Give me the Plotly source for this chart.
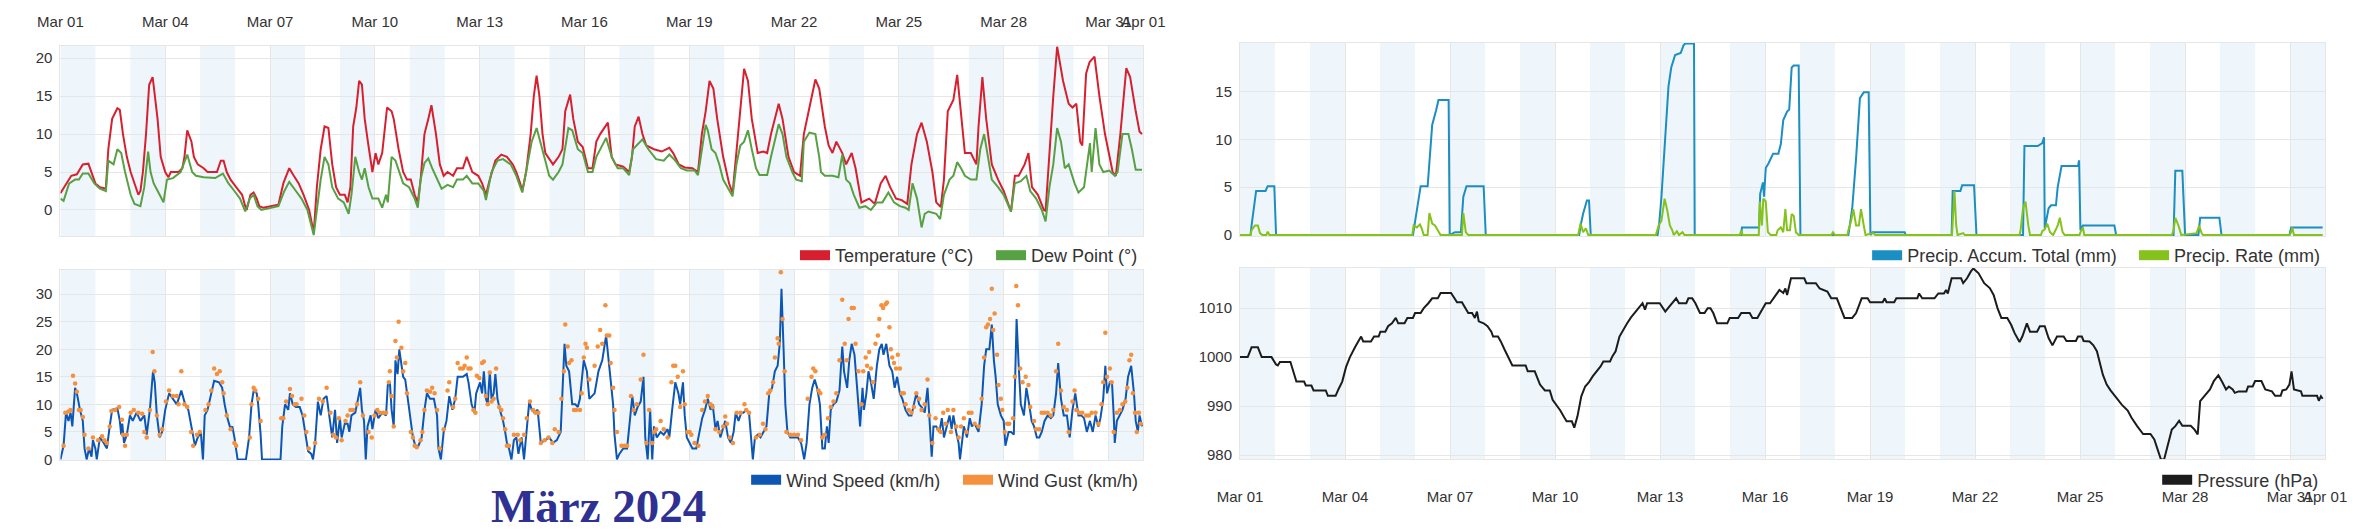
import numpy as np
import pandas as pd
import plotly.graph_objects as go

START = pd.Timestamp("2024-03-01")
END = pd.Timestamp("2024-04-01")

# every series: x in days since Mar 01 00:00
tick_days = [0, 3, 6, 9, 12, 15, 18, 21, 24, 27, 30, 31]

# Temperature (°C)
temp_days = [0.00, 0.31, 0.47, 0.64, 0.80, 1.00, 1.13, 1.30, 1.37, 1.48, 1.63, 1.70, 1.79, 1.90, 2.01, 2.18, 2.23, 2.29,
             2.36, 2.45, 2.54, 2.64, 2.78, 2.87, 3.00, 3.09, 3.16, 3.38, 3.49, 3.55, 3.63, 3.75, 3.82, 3.93, 4.10, 4.21, 4.48, 4.59, 4.67, 4.76, 4.87,
             5.03, 5.20, 5.29, 5.33, 5.44, 5.53, 5.62, 5.69, 5.80, 6.08, 6.24, 6.38, 6.55, 6.68, 6.82, 6.96, 7.12,
             7.25, 7.34, 7.45, 7.56, 7.67, 7.78, 7.89, 8.00, 8.14, 8.22, 8.30, 8.38, 8.47, 8.55, 8.63, 8.71, 8.80, 8.88, 8.93, 9.02, 9.10,
             9.21, 9.35, 9.48, 9.54, 9.68, 9.81, 9.92, 10.03, 10.14, 10.23, 10.31, 10.42, 10.53, 10.62, 10.75, 10.86, 10.97, 11.08,
             11.24, 11.35, 11.52, 11.63, 11.79, 11.96, 12.07, 12.18, 12.29, 12.45, 12.62, 12.78, 12.95, 13.05, 13.16, 13.22,
             13.33, 13.46, 13.55, 13.63, 13.71, 13.80, 13.88, 14.04, 14.10, 14.26, 14.37, 14.45, 14.59, 14.68, 14.81, 14.95, 15.10, 15.23,
             15.34, 15.45, 15.67, 15.78, 15.89, 16.11, 16.28, 16.36, 16.44, 16.55, 16.66, 16.77, 16.99, 17.21, 17.43, 17.54, 17.70, 17.87,
             18.09, 18.25, 18.36, 18.47, 18.58, 18.69, 18.80, 18.97, 19.14, 19.24, 19.35, 19.46, 19.57, 19.68, 19.79, 19.96, 20.12,
             20.23, 20.34, 20.56, 20.67, 20.84, 21.00, 21.17, 21.28, 21.44, 21.61, 21.72, 21.88, 21.99, 22.10,
             22.21, 22.38, 22.49, 22.65, 22.76, 22.87, 22.93, 23.15, 23.31, 23.48, 23.62, 23.75, 23.92, 24.08, 24.24,
             24.36, 24.52, 24.65, 24.80, 24.96, 25.07, 25.20, 25.29, 25.40, 25.56, 25.67, 25.78, 25.89, 26.06, 26.22,
             26.28, 26.39, 26.50, 26.66, 26.84, 27.00, 27.21, 27.32, 27.43, 27.60, 27.71, 27.81, 27.98, 28.15, 28.20,
             28.31, 28.42, 28.53, 28.70, 28.86, 28.97, 29.08, 29.19, 29.25, 29.36, 29.46, 29.60, 29.74, 29.90, 30.12, 30.21, 30.34, 30.51, 30.62, 30.73, 30.78, 30.89, 30.96]
temp_vals = [2.2, 4.5, 4.7, 6.0, 6.1, 3.5, 3.0, 2.8, 8.0, 12.0, 13.4, 13.2, 10.0, 7.0, 5.0, 2.5, 2.0, 2.5,
             5.0, 10.0, 16.5, 17.5, 12.0, 7.0, 5.0, 4.3, 5.0, 5.0, 5.5, 7.0, 10.5, 9.0, 7.0, 6.0, 5.5, 5.0, 5.0, 6.5, 6.5, 5.0, 4.0,
             3.0, 2.0, 0.5, 0.0, 2.0, 2.3, 1.5, 0.5, 0.3, 0.5, 0.7, 3.5, 5.5, 4.5, 3.5, 2.0, 0.0,
             -3.0, 3.0, 8.0, 11.0, 10.8, 6.0, 3.0, 2.0, 2.0, 1.0, 3.0, 11.0, 13.5, 17.0, 16.5, 12.0, 9.0, 6.5, 5.0, 7.5, 6.0,
             7.5, 13.5, 13.0, 12.0, 8.0, 5.0, 4.0, 4.0, 2.0, 1.0, 4.0, 10.0, 12.0, 13.8, 10.0, 6.0, 4.5, 5.0,
             4.5, 5.5, 5.5, 7.0, 5.0, 4.5, 3.5, 2.0, 4.0, 6.5, 7.3, 7.0, 6.0, 5.0, 3.5, 2.5,
             5.0, 10.0, 15.0, 17.7, 15.0, 10.0, 7.5, 6.5, 6.0, 7.0, 8.0, 13.0, 15.2, 12.0, 9.0, 8.3, 5.5, 5.5,
             9.0, 10.0, 11.5, 7.0, 6.0, 5.7, 5.0, 7.0, 11.0, 12.3, 10.0, 8.5, 8.0, 7.7, 8.2, 7.5, 6.0, 5.6,
             5.5, 5.0, 10.0, 13.0, 17.0, 16.0, 12.0, 7.0, 3.5, 2.2, 8.0, 13.0, 18.6, 17.0, 12.0, 7.5, 7.7,
             7.5, 10.0, 14.0, 12.0, 7.0, 5.0, 4.5, 10.0, 13.5, 17.2, 16.0, 11.0, 8.5, 7.5,
             9.0, 7.5, 6.0, 7.5, 5.5, 2.5, 1.0, 1.5, 0.8, 3.5, 4.5, 3.0, 1.5, 1.3, 0.8,
             6.0, 10.0, 11.5, 9.0, 5.0, 1.0, 0.4, 4.0, 13.0, 14.5, 17.8, 13.0, 7.5, 7.5, 6.0,
             11.0, 17.5, 12.0, 6.0, 4.0, 2.5, -0.2, 4.5, 4.5, 6.0, 7.5, 3.0, 2.0, 0.0, -0.1,
             8.0, 15.0, 21.5, 17.0, 14.0, 13.5, 14.0, 9.0, 8.5, 18.0, 19.5, 20.2, 15.0, 10.0, 5.0, 4.5, 10.0, 18.7, 17.5, 14.0, 13.0, 10.3, 10.0]

# Dew Point (°)
dew_days = [0.00, 0.09, 0.25, 0.42, 0.53, 0.64, 0.80, 0.97, 1.13, 1.30, 1.37, 1.52, 1.63, 1.74, 1.85, 2.01, 2.12, 2.29,
            2.40, 2.51, 2.58, 2.67, 2.84, 2.95, 3.05, 3.22, 3.44, 3.63, 3.77, 3.88, 4.10, 4.43, 4.65, 4.81, 4.98,
            5.14, 5.29, 5.42, 5.53, 5.64, 5.75, 6.08, 6.24, 6.41, 6.55, 6.74, 6.90, 7.07, 7.18, 7.25,
            7.34, 7.45, 7.56, 7.67, 7.78, 7.95, 8.11, 8.25, 8.33, 8.44, 8.55, 8.63, 8.71, 8.82, 8.93, 9.10, 9.21, 9.32, 9.37,
            9.48, 9.59, 9.70, 9.81, 9.98, 10.14, 10.23, 10.31, 10.42, 10.53, 10.64, 10.80, 10.91, 11.08, 11.24, 11.35, 11.52, 11.63,
            11.79, 11.96, 12.12, 12.18, 12.34, 12.51, 12.67, 12.89, 13.05, 13.22, 13.33, 13.49, 13.63, 13.77, 13.88, 13.99, 14.10,
            14.26, 14.37, 14.54, 14.65, 14.81, 14.95, 15.10, 15.23, 15.34, 15.45, 15.62, 15.78, 15.95, 16.11, 16.28, 16.39, 16.50, 16.66,
            16.83, 17.05, 17.27, 17.43, 17.60, 17.76, 17.93, 18.15, 18.25, 18.36, 18.47, 18.53, 18.64, 18.75, 18.86, 18.97, 19.14, 19.24,
            19.35, 19.46, 19.57, 19.68, 19.79, 19.91, 20.01, 20.23, 20.34, 20.45, 20.56, 20.67, 20.78, 20.95, 21.06, 21.22,
            21.28, 21.44, 21.61, 21.72, 21.77, 21.88, 22.10, 22.27, 22.38, 22.49, 22.60, 22.71, 22.87, 23.04, 23.20, 23.37, 23.53, 23.70,
            23.86, 24.03, 24.19, 24.28, 24.39, 24.52, 24.65, 24.74, 24.85, 25.07, 25.18, 25.29, 25.45, 25.56, 25.67, 25.78, 25.89,
            26.06, 26.22, 26.33, 26.44, 26.55, 26.66, 26.84, 27.00, 27.21, 27.32, 27.49, 27.65, 27.76, 27.93, 28.09, 28.20,
            28.31, 28.42, 28.53, 28.64, 28.75, 28.86, 29.03, 29.14, 29.30, 29.47, 29.52, 29.63, 29.74, 29.85, 30.02, 30.18, 30.26, 30.40, 30.57, 30.67, 30.78, 30.96]
dew_vals = [1.5, 1.2, 3.5, 4.0, 4.0, 4.8, 4.8, 3.5, 2.8, 2.5, 6.5, 6.0, 8.0, 7.5, 5.0, 2.0, 0.8, 0.5,
            3.0, 7.7, 5.0, 3.5, 2.0, 1.0, 4.0, 4.2, 5.0, 7.3, 5.0, 4.5, 4.3, 4.2, 4.8, 3.5, 2.5,
            1.5, -0.2, 1.5, 2.0, 0.5, 0.0, 0.3, 0.5, 2.5, 3.7, 2.5, 1.5, 0.0, -2.0, -3.3,
            0.0, 4.0, 7.0, 6.0, 3.0, 1.5, 1.0, -0.5, 2.0, 7.0, 5.0, 4.0, 5.5, 3.0, 1.5, 1.5, 0.3, 2.0, 1.0,
            7.0, 6.5, 5.0, 3.5, 3.0, 1.5, 0.3, 4.0, 6.2, 6.8, 5.5, 4.0, 2.8, 3.3, 3.0, 4.0, 4.0, 4.5,
            3.5, 3.5, 2.5, 1.3, 5.0, 6.5, 6.7, 6.0, 4.5, 2.3, 5.0, 9.0, 10.8, 8.5, 6.5, 4.5, 4.0,
            5.0, 6.0, 10.8, 10.5, 8.0, 7.5, 5.0, 5.0, 7.0, 8.0, 9.5, 7.0, 5.5, 5.5, 4.6, 8.0, 8.5, 9.3,
            8.0, 6.7, 6.5, 7.3, 6.5, 5.5, 5.2, 5.2, 4.6, 8.0, 11.2, 10.5, 8.0, 7.5, 6.0, 4.0, 2.5, 1.8,
            6.0, 8.5, 9.0, 10.5, 8.0, 5.5, 4.6, 4.6, 7.0, 9.0, 11.3, 10.0, 7.0, 5.0, 4.0, 3.8,
            9.0, 10.2, 10.0, 7.0, 5.0, 4.5, 4.5, 4.3, 7.3, 4.0, 3.5, 2.0, 0.3, 0.5, 0.0, 1.0, 1.0, 2.3,
            1.0, 0.5, 0.3, 0.0, 3.5, 1.5, -2.3, -0.5, -0.2, -0.5, -1.2, 2.0, 4.0, 4.5, 6.3, 5.5, 4.5,
            4.0, 4.0, 8.0, 10.0, 7.0, 4.0, 3.0, 2.0, -0.2, 3.5, 3.8, 4.5, 2.5, 1.5, 0.0, -1.5,
            3.0, 6.0, 10.8, 9.0, 5.5, 6.0, 3.5, 2.3, 3.0, 8.8, 5.0, 10.8, 6.0, 5.0, 5.2, 4.5, 5.0, 10.0, 10.0, 8.0, 5.3, 5.3]

# Wind Speed (km/h)
wind_days = [0.00, 0.09, 0.16, 0.23, 0.29, 0.34, 0.42, 0.47, 0.56, 0.64, 0.69, 0.75, 0.82, 0.89, 0.93, 1.00, 1.04, 1.13, 1.24, 1.33,
             1.41, 1.48, 1.63, 1.70, 1.74, 1.77, 1.82, 1.90, 1.99, 2.07, 2.18, 2.29, 2.40, 2.47, 2.56, 2.65, 2.70, 2.76, 2.84, 2.91,
             3.00, 3.11, 3.22, 3.33, 3.46, 3.57, 3.66, 3.77, 3.85, 3.93, 4.02, 4.08, 4.13, 4.21, 4.32, 4.40, 4.54, 4.63, 4.70, 4.78,
             4.87, 4.92, 4.98, 5.07, 5.31, 5.40, 5.47, 5.53, 5.62, 5.66, 5.73, 5.77, 6.30, 6.35, 6.43, 6.52, 6.57, 6.65, 6.74, 6.85,
             6.93, 7.01, 7.09, 7.18, 7.23, 7.29, 7.37, 7.45, 7.53, 7.62, 7.70, 7.78, 7.86, 7.92, 8.00, 8.05, 8.14, 8.22, 8.27, 8.33,
             8.44, 8.52, 8.58, 8.63, 8.69, 8.74, 8.79, 8.88, 8.93, 9.02, 9.10, 9.21, 9.32, 9.37, 9.43, 9.48, 9.54, 9.59, 9.65, 9.70,
             9.76, 9.81, 9.87, 9.92, 10.01, 10.09, 10.16, 10.25, 10.34, 10.42, 10.49, 10.58, 10.69, 10.78, 10.82, 10.89, 10.97, 11.05, 11.13, 11.22,
             11.30, 11.37, 11.52, 11.63, 11.68, 11.77, 11.85, 11.90, 12.01, 12.07, 12.12, 12.18, 12.23, 12.29, 12.34, 12.40, 12.45, 12.51, 12.58, 12.67,
             12.73, 12.78, 12.84, 12.91, 12.98, 13.05, 13.11, 13.20, 13.27, 13.33, 13.42, 13.49, 13.57, 13.66, 13.75, 13.88, 13.99, 14.10, 14.21, 14.32,
             14.43, 14.48, 14.56, 14.65, 14.74, 14.81, 14.87, 14.98, 15.07, 15.14, 15.29, 15.40, 15.51, 15.62, 15.73, 15.82, 15.86, 15.93, 16.00, 16.11,
             16.22, 16.28, 16.37, 16.44, 16.52, 16.61, 16.69, 16.74, 16.81, 16.88, 16.94, 16.99, 17.07, 17.18, 17.27, 17.38, 17.43, 17.51, 17.60, 17.69,
             17.74, 17.82, 17.87, 17.93, 18.01, 18.09, 18.20, 18.29, 18.37, 18.45, 18.53, 18.61, 18.67, 18.75, 18.81, 18.89, 18.97, 19.03, 19.11, 19.19,
             19.27, 19.33, 19.41, 19.49, 19.55, 19.63, 19.71, 19.77, 19.82, 19.88, 19.96, 20.04, 20.13, 20.21, 20.29, 20.37, 20.45, 20.53, 20.59, 20.64,
             20.70, 20.75, 20.81, 20.89, 21.00, 21.11, 21.20, 21.29, 21.36, 21.44, 21.52, 21.59, 21.66, 21.74, 21.81, 21.88, 21.94, 21.99, 22.05, 22.13,
             22.21, 22.30, 22.38, 22.43, 22.52, 22.58, 22.65, 22.73, 22.78, 22.84, 22.89, 22.96, 23.00, 23.07, 23.13, 23.20, 23.28, 23.37, 23.44, 23.51,
             23.56, 23.64, 23.73, 23.81, 23.88, 23.95, 24.03, 24.10, 24.19, 24.28, 24.36, 24.43, 24.50, 24.58, 24.65, 24.74, 24.82, 24.87, 24.94, 24.99,
             25.07, 25.16, 25.23, 25.29, 25.38, 25.45, 25.51, 25.56, 25.64, 25.71, 25.75, 25.81, 25.86, 25.95, 26.03, 26.09, 26.17, 26.28, 26.37, 26.44,
             26.50, 26.59, 26.66, 26.72, 26.77, 26.83, 26.92, 27.00, 27.05, 27.14, 27.21, 27.29, 27.37, 27.43, 27.49, 27.58, 27.65, 27.73, 27.80, 27.87,
             27.95, 28.02, 28.09, 28.17, 28.26, 28.35, 28.42, 28.50, 28.56, 28.64, 28.72, 28.81, 28.89, 28.97, 29.05, 29.14, 29.22, 29.30, 29.38, 29.47,
             29.55, 29.63, 29.71, 29.77, 29.85, 29.91, 29.96, 30.04, 30.10, 30.15, 30.18, 30.24, 30.33, 30.40, 30.49, 30.56, 30.65, 30.73, 30.78, 30.84, 30.89, 30.96]
wind_vals = [0, 2.5, 8.5, 7, 8.5, 6, 13, 12, 9, 7, 2, 0, 2, 0.5, 3.5, 2, 0, 4, 3, 2,
             6, 9, 9.3, 7, 4.5, 6.5, 3, 4.5, 8, 7, 8.5, 7, 8, 4.5, 9, 16, 14, 8, 4, 5,
             9, 12, 11, 10, 12.5, 10, 9, 5, 2.5, 4, 4.8, 0, 8, 9, 12, 14.3, 14, 13, 10, 7.5,
             5.5, 6, 4, 0, 0, 4, 10, 12.5, 12, 10, 4.5, 0, 0, 6, 10, 9, 12, 10, 9.5, 9.5,
             8, 5, 1.5, 1, 0, 3, 10.5, 8, 11, 11.5, 8, 4, 9, 3, 7.5, 4, 6.5, 6.5, 5, 8,
             8.5, 11, 13, 9, 7, 0, 6, 8, 5.5, 9, 7.5, 8.5, 8, 13.5, 14, 9, 6, 18, 15.5, 20,
             17, 15, 14.5, 12, 8, 4, 2.5, 2.5, 4, 9, 12, 11, 11, 8, 2, 0, 5, 7, 11.5, 9,
             11, 15, 15, 15.5, 14, 10, 8.5, 12, 14, 12, 16, 11, 10, 16, 11, 12, 15.5, 11, 9, 7,
             5, 3, 2, 0, 3.5, 4, 1, 4, 0, 4, 10.5, 9, 8.5, 9, 3, 3.5, 4, 3, 3.5, 5,
             21, 17, 16, 10, 10, 9.5, 11, 18, 16, 11, 12, 16, 18, 22.5, 15, 10, 4.5, 0, 1, 2,
             2, 6, 11.5, 8, 9.5, 10.5, 15, 4, 0, 9, 0, 6, 4, 5, 4.5, 5.5, 4, 9, 14, 12,
             10, 14, 8, 4, 3, 2, 2, 5, 7.5, 9, 11, 9, 10, 5.5, 7, 4, 5.5, 7, 4, 3,
             5, 8.5, 7, 8.5, 8.5, 9, 8.5, 4, 0, 4, 4.5, 4, 5, 6, 12, 13, 16, 17, 21, 31,
             20, 10, 5, 4, 4, 4, 3, 0, 3, 10, 13, 14.5, 13, 10, 2, 2, 6, 3, 9, 10,
             10.5, 12.5, 20.5, 16, 13, 18, 21, 19, 15, 10, 6, 13, 9, 12, 16, 14, 11, 17, 20, 21,
             19, 21, 17, 16, 13, 15, 12, 11, 9, 8, 8, 10, 12, 10, 9.5, 8.5, 13, 8, 0.5, 6,
             6, 5, 7.5, 4, 6, 8, 5.5, 8, 5, 3, 0, 4, 6, 4, 7.5, 6, 6.5, 5, 10, 17,
             20, 20, 24.5, 18, 15, 10, 8, 7, 2.5, 5, 5, 4.5, 25.5, 17, 10, 8, 13, 10, 7, 6,
             4, 4, 5, 7, 8, 7.5, 8, 12, 17.5, 11, 8, 8, 4, 9, 12, 8, 8, 7.5, 5, 7,
             5, 8, 6, 7.5, 11, 17, 12, 14, 14, 8, 3, 7, 8, 9, 11, 15, 17, 12, 7, 5, 8, 6]

# Wind Gust (km/h)
gust_days = [0.09, 0.14, 0.23, 0.29, 0.36, 0.42, 0.47, 0.53, 0.58, 0.64, 0.69, 0.80, 0.93, 1.08, 1.19, 1.26, 1.33, 1.41, 1.46, 1.57,
             1.68, 1.76, 1.79, 1.85, 1.90, 2.01, 2.10, 2.23, 2.34, 2.40, 2.47, 2.56, 2.64, 2.69, 2.76, 2.84, 2.91, 3.02, 3.11, 3.22,
             3.33, 3.38, 3.46, 3.55, 3.63, 3.74, 3.80, 3.91, 3.99, 4.15, 4.24, 4.32, 4.40, 4.48, 4.56, 4.63, 4.67, 4.76, 4.87, 4.98,
             5.03, 5.42, 5.47, 5.53, 5.58, 5.66, 5.73, 6.32, 6.38, 6.46, 6.57, 6.63, 6.71, 6.76, 6.90, 6.98, 7.04, 7.11, 7.29, 7.40,
             7.51, 7.62, 7.73, 7.81, 7.89, 7.97, 8.05, 8.16, 8.22, 8.30, 8.38, 8.49, 8.58, 8.66, 8.82, 8.91, 8.99, 9.07, 9.15, 9.24,
             9.32, 9.40, 9.43, 9.48, 9.54, 9.59, 9.63, 9.68, 9.76, 9.81, 9.87, 9.92, 10.03, 10.09, 10.14, 10.20, 10.31, 10.36, 10.42, 10.49,
             10.58, 10.64, 10.71, 10.78, 10.86, 10.97, 11.08, 11.13, 11.24, 11.30, 11.37, 11.44, 11.52, 11.57, 11.63, 11.68, 11.74, 11.82, 11.88, 11.92,
             11.99, 12.07, 12.12, 12.18, 12.23, 12.29, 12.34, 12.40, 12.47, 12.56, 12.62, 12.67, 12.73, 12.78, 12.84, 12.98, 13.09, 13.16, 13.27, 13.35,
             13.44, 13.53, 13.60, 13.68, 13.75, 13.86, 13.97, 14.08, 14.15, 14.26, 14.34, 14.41, 14.45, 14.52, 14.56, 14.63, 14.70, 14.76, 14.87, 14.92,
             14.98, 15.03, 15.07, 15.14, 15.29, 15.38, 15.45, 15.51, 15.60, 15.64, 15.71, 15.75, 15.82, 15.86, 15.93, 16.06, 16.15, 16.22, 16.33, 16.41,
             16.50, 16.61, 16.69, 16.77, 16.85, 16.94, 16.99, 17.05, 17.18, 17.27, 17.38, 17.49, 17.54, 17.60, 17.67, 17.74, 17.82, 17.87, 17.95, 18.01,
             18.06, 18.15, 18.26, 18.37, 18.45, 18.53, 18.61, 18.67, 18.75, 18.86, 18.97, 19.03, 19.08, 19.16, 19.25, 19.36, 19.47, 19.58, 19.63, 19.71,
             19.91, 20.02, 20.11, 20.18, 20.26, 20.32, 20.40, 20.45, 20.53, 20.56, 20.62, 20.67, 20.73, 20.78, 20.89, 21.00, 21.11, 21.20, 21.39, 21.50,
             21.55, 21.61, 21.70, 21.75, 21.81, 21.88, 21.97, 22.05, 22.13, 22.21, 22.30, 22.38, 22.45, 22.51, 22.56, 22.65, 22.71, 22.76, 22.84, 22.93,
             22.98, 23.05, 23.09, 23.15, 23.20, 23.26, 23.33, 23.40, 23.44, 23.50, 23.55, 23.62, 23.66, 23.73, 23.77, 23.81, 23.86, 23.92, 23.97, 24.03,
             24.08, 24.14, 24.19, 24.28, 24.36, 24.43, 24.50, 24.58, 24.65, 24.74, 24.82, 24.87, 24.96, 25.05, 25.13, 25.20, 25.27, 25.34, 25.40, 25.49,
             25.56, 25.64, 25.71, 25.78, 25.86, 25.93, 26.00, 26.08, 26.17, 26.28, 26.37, 26.44, 26.50, 26.55, 26.61, 26.66, 26.70, 26.74, 26.81, 26.85,
             26.92, 26.96, 27.03, 27.10, 27.16, 27.27, 27.32, 27.36, 27.41, 27.47, 27.54, 27.63, 27.71, 27.76, 27.87, 27.93, 28.02, 28.09, 28.17, 28.26,
             28.35, 28.42, 28.50, 28.56, 28.64, 28.72, 28.81, 28.86, 28.97, 29.03, 29.08, 29.16, 29.25, 29.36, 29.44, 29.52, 29.63, 29.71, 29.80, 29.85,
             29.91, 29.96, 30.04, 30.09, 30.15, 30.24, 30.33, 30.40, 30.48, 30.54, 30.60, 30.65, 30.70, 30.76, 30.81, 30.87, 30.92]
gust_vals = [2.5, 8.5, 8.7, 9.0, 15.2, 13.8, 12.3, 9.0, 9.0, 7.7, 4.5, 2.0, 4.0, 3.5, 4.2, 3.5, 3.0, 6.0, 8.8, 9.0,
             9.5, 7.2, 4.5, 2.5, 4.5, 8.5, 9.0, 8.5, 8.3, 5.0, 4.0, 9.0, 19.5, 16.0, 8.0, 4.5, 5.5, 10.5, 12.5, 11.5,
             11.5, 10.0, 16.0, 10.0, 9.5, 5.0, 2.5, 4.5, 5.0, 9.0, 10.0, 12.5, 16.5, 15.5, 16.0, 14.0, 12.0, 8.0, 5.5, 3.0,
             2.5, 4.0, 10.0, 13.0, 12.5, 11.0, 7.0, 7.5, 7.5, 10.5, 12.8, 11.5, 10.0, 10.0, 11.0, 8.0, 5.0, 2.0, 3.0, 11.0,
             10.5, 13.0, 8.5, 4.5, 4.0, 7.5, 3.5, 7.0, 8.0, 9.0, 9.0, 10.0, 14.0, 8.0, 5.0, 4.0, 8.0, 9.0, 8.5, 8.5,
             8.5, 14.0, 16.0, 11.5, 6.0, 21.5, 18.5, 25.0, 20.3, 16.0, 17.5, 12.0, 5.0, 4.0, 2.5, 2.2, 3.5, 5.0, 9.0, 12.5,
             12.3, 13.0, 12.0, 9.0, 2.0, 5.5, 12.5, 14.0, 9.5, 11.0, 17.5, 16.5, 16.5, 17.0, 18.5, 16.5, 16.5, 9.0, 8.5, 15.2,
             14.8, 17.5, 17.8, 11.5, 10.0, 15.8, 10.5, 11.0, 16.5, 9.5, 9.0, 7.5, 5.5, 2.5, 2.5, 4.5, 4.5, 3.5, 4.5, 7.5,
             10.5, 9.0, 8.5, 8.5, 3.0, 3.5, 4.0, 3.0, 5.5, 5.0, 11.0, 16.0, 24.5, 20.5, 17.5, 18.0, 9.0, 9.0, 9.0, 12.0,
             18.5, 21.0, 20.3, 14.5, 17.0, 20.5, 23.5, 21.0, 28.0, 22.5, 22.5, 17.5, 13.0, 9.0, 5.0, 2.5, 2.5, 2.5, 11.5, 9.0,
             10.0, 14.5, 19.0, 3.0, 9.0, 3.0, 5.0, 5.5, 7.0, 5.5, 4.0, 14.0, 17.0, 17.0, 15.0, 9.5, 16.0, 10.0, 5.0, 5.0,
             4.5, 3.0, 2.5, 9.0, 10.5, 11.5, 10.0, 9.5, 5.5, 5.0, 6.0, 7.8, 6.5, 4.0, 3.0, 8.5, 8.5, 10.0, 9.0, 8.5,
             4.0, 4.5, 6.5, 5.5, 12.0, 12.5, 14.0, 18.5, 22.0, 21.0, 34.0, 25.5, 16.0, 5.0, 4.5, 4.5, 4.5, 3.5, 11.0, 15.0,
             16.5, 16.0, 12.5, 12.0, 4.0, 4.5, 7.5, 9.5, 10.5, 12.0, 18.0, 29.0, 21.0, 18.0, 25.5, 27.5, 27.5, 21.0, 16.0, 10.0,
             16.0, 18.5, 17.0, 19.5, 16.5, 14.0, 21.0, 22.5, 25.5, 28.0, 27.5, 28.2, 28.5, 24.0, 20.0, 18.5, 17.5, 16.5, 19.0, 16.5,
             12.0, 12.0, 10.0, 9.0, 8.5, 9.5, 12.0, 11.0, 9.0, 10.0, 14.5, 8.0, 3.0, 7.5, 5.5, 5.0, 8.5, 6.5, 9.0, 5.0,
             9.0, 6.0, 4.0, 6.0, 7.5, 5.0, 8.5, 8.5, 6.5, 6.0, 11.0, 18.5, 24.0, 24.5, 25.5, 31.0, 23.5, 26.5, 19.0, 13.5,
             11.0, 9.0, 5.0, 6.5, 6.5, 7.5, 15.0, 31.5, 28.0, 16.5, 14.0, 15.0, 13.5, 9.5, 7.0, 5.5, 5.5, 8.5, 8.5, 8.5,
             8.0, 9.0, 16.0, 21.0, 12.5, 9.5, 9.0, 5.0, 10.5, 12.5, 9.0, 8.5, 8.5, 8.0, 8.0, 8.5, 8.5, 6.5, 10.0, 14.0,
             23.0, 15.0, 16.5, 14.0, 5.0, 8.5, 9.0, 10.0, 10.5, 13.0, 18.0, 19.0, 12.0, 8.5, 5.0, 8.5, 6.5]

# Precip. Accum. Total (mm)
rain_total_days = [0.00, 0.30, 0.33, 0.46, 0.73, 0.79, 0.98, 1.03,
                   4.94, 5.02, 5.16, 5.36, 5.49, 5.60, 5.67, 5.96, 5.99,
                   6.14, 6.31, 6.38, 6.47, 6.96, 7.02,
                   9.69, 9.73, 9.80, 9.91, 9.97, 10.02,
                   11.93, 11.97, 12.04, 12.15, 12.24, 12.32, 12.43, 12.59, 12.67, 12.72, 12.97, 12.99,
                   14.32, 14.34, 14.83, 14.86, 14.94, 14.97, 15.02, 15.10, 15.23, 15.38, 15.45, 15.52, 15.63, 15.69, 15.76, 15.82, 15.96, 16.01,
                   17.38, 17.49, 17.60, 17.71, 17.82, 17.96, 18.01,
                   18.07, 18.99, 19.02,
                   20.33, 20.36, 20.58, 20.63, 20.97, 21.04,
                   22.37, 22.41, 22.79, 22.92, 22.97, 22.99, 23.10, 23.17, 23.31, 23.36, 23.47, 23.94, 23.97, 24.01, 24.08, 24.98, 25.03,
                   26.67, 26.72, 26.92, 27.00,
                   27.38, 27.43, 27.98, 28.04,
                   29.98, 30.03, 30.93]
rain_total_vals = [0, 0, 1.0, 4.6, 4.6, 5.1, 5.1, 0,
                   0, 2.0, 5.1, 5.1, 11.5, 13.0, 14.1, 14.1, 0,
                   0.3, 0.3, 4.0, 5.1, 5.1, 0,
                   0, 1.0, 2.2, 3.6, 3.6, 0,
                   0, 1.0, 4.0, 10.0, 15.5, 17.5, 18.8, 19.0, 19.8, 20.0, 20.0, 0,
                   0, 0.8, 0.8, 4.3, 5.5, 4.0, 7.0, 7.5, 8.5, 8.5, 9.5, 12.0, 12.9, 13.1, 17.5, 17.7, 17.7, 0,
                   0, 2.8, 8.0, 14.3, 14.9, 14.9, 0,
                   0.3, 0.3, 0,
                   0, 4.6, 4.6, 5.2, 5.2, 0,
                   0, 9.3, 9.3, 9.6, 10.2, 0.7, 2.8, 3.1, 3.1, 5.0, 7.2, 7.2, 7.8, 0.5, 1.0, 1.0, 0,
                   0, 6.7, 6.7, 0,
                   0, 1.8, 1.8, 0,
                   0, 0.8, 0.8]

# Precip. Rate (mm)
rain_rate_days = [0.00, 0.30, 0.33, 0.43, 0.51, 0.57, 0.64, 0.75, 0.79, 0.84,
                  4.92, 4.96, 5.05, 5.14, 5.19, 5.25, 5.36, 5.41, 5.49, 5.57, 5.65, 5.73,
                  6.34, 6.38, 6.45, 6.52,
                  9.66, 9.73, 9.80, 9.88, 9.95,
                  11.88, 11.96, 12.04, 12.13, 12.21, 12.28, 12.35, 12.39, 12.48, 12.54, 12.64, 12.70,
                  14.28, 14.32, 14.36, 14.82, 14.85, 14.91, 14.95, 15.02, 15.08, 15.16,
                  15.32, 15.36, 15.45, 15.52, 15.58, 15.63, 15.71, 15.76, 15.82, 15.88, 15.96,
                  16.89, 16.94, 17.00,
                  17.35, 17.38, 17.46, 17.52, 17.60, 17.68, 17.74, 17.82, 17.87, 18.09, 18.15,
                  20.34, 20.41, 20.46, 20.50, 20.66, 20.71,
                  22.27, 22.30, 22.37, 22.44, 22.52, 22.57,
                  22.88, 22.92, 22.99, 23.06, 23.14, 23.23, 23.31, 23.36, 23.42, 23.50, 23.56,
                  23.98, 24.01, 24.08, 24.12,
                  26.62, 26.67, 26.72, 26.81, 26.89,
                  27.33, 27.40, 27.47, 27.51,
                  29.98, 30.03, 30.06, 30.11, 30.93]
rain_rate_vals = [0, 0, 0.5, 1.0, 1.0, 0.2, 0, 0, 0.35, 0,
                  0, 1.0, 0.8, 1.1, 0.7, 0, 0, 2.3, 1.2, 1.0, 0.5, 0,
                  0, 2.3, 0.3, 0,
                  0, 1.2, 0.3, 0.7, 0,
                  0, 1.0, 1.5, 3.8, 2.5, 1.0, 0.5, 0, 0.4, 0, 0.3, 0,
                  0, 0.5, 0, 0, 3.5, 1.0, 3.8, 3.5, 0.3, 0,
                  0, 0.5, 0.8, 0.3, 2.7, 0.5, 0.5, 2.2, 2.0, 0.3, 0,
                  0, 0.3, 0,
                  0, 0.5, 1.5, 2.7, 1.0, 1.0, 2.7, 1.0, 0, 0.2, 0,
                  0, 4.6, 1.0, 0, 0.2, 0,
                  0, 0.5, 2.8, 3.5, 1.0, 0,
                  0, 0.4, 0.6, 1.2, 0.3, 0, 0.6, 1.0, 1.8, 0.3, 0,
                  0, 0.3, 0.8, 0,
                  0, 0.5, 1.8, 1.0, 0,
                  0.2, 1.0, 0.2, 0,
                  0, 0.3, 0.8, 0, 0]

# Pressure (hPa)
pres_days = [0.00, 0.22, 0.33, 0.51, 0.62, 0.90, 1.03, 1.08, 1.14, 1.44, 1.61, 1.83, 1.88, 2.04, 2.10, 2.45, 2.51, 2.73, 2.81, 2.92,
             3.03, 3.14, 3.30, 3.41, 3.46, 3.52, 3.74, 3.83, 3.96, 4.01, 4.15, 4.23, 4.34, 4.45, 4.52, 4.70, 4.78, 4.94, 5.00, 5.16,
             5.25, 5.38, 5.49, 5.65, 5.73, 6.03, 6.14, 6.20, 6.34, 6.42, 6.52, 6.63, 6.71, 6.77, 6.82, 6.96, 7.07, 7.18, 7.23, 7.37,
             7.45, 7.56, 7.67, 7.78, 8.16, 8.22, 8.42, 8.49, 8.57, 8.71, 8.85, 8.93, 9.04, 9.15, 9.26, 9.33, 9.48, 9.55, 9.64, 9.69,
             9.75, 9.86, 9.97, 10.08, 10.19, 10.30, 10.38, 10.57, 10.64, 10.73, 10.84, 10.95, 11.06, 11.17, 11.28, 11.39, 11.50, 11.57, 11.63, 11.99,
             12.07, 12.15, 12.24, 12.35, 12.46, 12.54, 12.75, 12.81, 12.92, 13.01, 13.08, 13.14, 13.27, 13.36, 13.44, 13.52, 13.63, 13.92, 13.99, 14.23,
             14.32, 14.56, 14.64, 14.78, 14.86, 14.94, 15.02, 15.14, 15.30, 15.41, 15.52, 15.58, 15.63, 15.74, 16.12, 16.18, 16.45, 16.56, 16.78, 16.89,
             17.05, 17.16, 17.27, 17.49, 17.60, 17.76, 17.93, 18.00, 18.36, 18.42, 18.47, 18.69, 18.75, 19.35, 19.40, 19.49, 19.84, 19.95, 20.11, 20.17,
             20.22, 20.33, 20.60, 20.66, 20.77, 20.88, 20.95, 21.10, 21.26, 21.42, 21.53, 21.64, 21.75, 21.92, 22.03, 22.13, 22.27, 22.35, 22.48, 22.57,
             22.77, 22.85, 22.99, 23.10, 23.21, 23.34, 23.53, 23.61, 23.88, 23.94, 24.05, 24.10, 24.27, 24.38, 24.48, 24.65, 24.76, 24.87, 25.03, 25.19,
             25.36, 25.47, 25.63, 25.80, 26.01, 26.12, 26.23, 26.31, 26.40, 26.51, 26.62, 26.72, 26.83, 26.92, 27.16, 27.27, 27.36, 27.43, 27.54, 27.71,
             27.82, 27.95, 28.06, 28.17, 28.25, 28.36, 28.42, 28.53, 28.75, 28.80, 28.93, 29.00, 29.18, 29.29, 29.48, 29.57, 29.73, 29.78, 29.89, 29.98,
             30.04, 30.11, 30.31, 30.35, 30.77, 30.82, 30.88, 30.93]
pres_vals = [1000, 1000, 1002, 1002, 1000, 1000, 998.5, 998.3, 999, 999, 995, 995, 994.2, 994.2, 993.2, 993.2, 992.1, 992.1, 993.4, 995,
             998, 1000, 1002.2, 1003.6, 1004.2, 1003.2, 1003.2, 1004.2, 1004.2, 1005.2, 1005.2, 1006.3, 1006.9, 1008, 1006.9, 1006.9, 1008, 1008, 1009, 1009,
             1010, 1011, 1012, 1012, 1013.1, 1013.1, 1012, 1011.2, 1011.2, 1010.1, 1009, 1009, 1008, 1009.3, 1007.3, 1006.9, 1006.3, 1005.2, 1004.2, 1004.2,
             1003.2, 1001.5, 999.8, 998.3, 998.3, 997.1, 997.1, 995.7, 994.4, 993.2, 993.2, 991.3, 990.3, 989.1, 987.7, 986.9, 986.9, 985.6, 987.9, 989.6,
             992, 994, 994.9, 996.1, 997.1, 998.1, 999.1, 999.1, 1000.2, 1001.2, 1004.2, 1005.7, 1006.9, 1008.1, 1009, 1010, 1011, 1009.7, 1011, 1011,
             1010.1, 1009.3, 1010.1, 1011, 1012, 1011, 1011, 1012, 1012, 1011, 1010, 1009, 1009, 1010, 1010, 1009, 1006.9, 1006.9, 1008, 1008,
             1009, 1009, 1008, 1008, 1009, 1010, 1011, 1011, 1012.7, 1013.7, 1013.1, 1014, 1012.7, 1016.1, 1016.1, 1015.1, 1015.1, 1014, 1013.4, 1012,
             1012, 1010, 1008, 1008, 1009, 1012, 1012, 1011.2, 1011.2, 1012, 1011.2, 1011.2, 1012, 1012, 1013, 1012, 1012, 1013, 1013, 1013.7,
             1013, 1016.1, 1016.1, 1015.1, 1016.1, 1017.5, 1018.1, 1017.1, 1015.1, 1014.1, 1012.7, 1010, 1008, 1008, 1006.6, 1004.9, 1003.1, 1004.2, 1006.9, 1005.2,
             1005.2, 1006.3, 1006.3, 1003.9, 1002.4, 1004.2, 1004.2, 1003.3, 1003.3, 1004.2, 1004.2, 1003.3, 1003.2, 1002.4, 1001.2, 996.4, 994.4, 993.2, 991.7, 990.3,
             989.1, 987.6, 985.9, 984.3, 984.3, 983.2, 980.8, 979.1, 979.1, 982.2, 985.2, 985.9, 987, 986, 986, 985.2, 984.2, 991, 992, 993.4,
             995.1, 996.3, 994.9, 993.4, 994, 993.4, 992.7, 993, 993, 994, 994, 995.1, 995.1, 993.4, 993, 992.1, 992.1, 993.2, 993.4, 994.4,
             997.1, 993.4, 993, 992.1, 992.1, 991.1, 992, 991.5]


def when(days):
    return START + pd.to_timedelta(np.asarray(days, dtype=float), unit="D")


FONT = "Liberation Sans, Arial, sans-serif"
GRID = "#e6e6e6"
BAND = "#eef5fb"
TEXT = "#333333"

LEFT = [0.0222, 0.4807]
RIGHT = [0.5216, 0.9810]

fig = go.Figure()

# temperature panel
fig.add_trace(go.Scatter(x=when(temp_days), y=temp_vals, mode="lines", line=dict(color="#d7202f", width=2),
                         showlegend=False, xaxis="x", yaxis="y"))
fig.add_trace(go.Scatter(x=when(dew_days), y=dew_vals, mode="lines", line=dict(color="#58a044", width=2),
                         showlegend=False, xaxis="x", yaxis="y"))
# wind panel
fig.add_trace(go.Scatter(x=when(wind_days), y=wind_vals, mode="lines", line=dict(color="#0e56b4", width=2),
                         showlegend=False, xaxis="x2", yaxis="y2"))
fig.add_trace(go.Scatter(x=when(gust_days), y=gust_vals, mode="markers", marker=dict(color="#f5903c", size=4.5),
                         showlegend=False, xaxis="x2", yaxis="y2"))
# precipitation panel
fig.add_trace(go.Scatter(x=when(rain_total_days), y=rain_total_vals, mode="lines", line=dict(color="#1b8ec2", width=2),
                         showlegend=False, xaxis="x3", yaxis="y3"))
fig.add_trace(go.Scatter(x=when(rain_rate_days), y=rain_rate_vals, mode="lines", line=dict(color="#86c21c", width=2),
                         showlegend=False, xaxis="x3", yaxis="y3"))
# pressure panel
fig.add_trace(go.Scatter(x=when(pres_days), y=pres_vals, mode="lines", line=dict(color="#1c1c1c", width=2),
                         showlegend=False, xaxis="x4", yaxis="y4"))


# legend swatches (rectangles like the original), one small legend per entry
def key(name, color, legend, xa, ya):
    return go.Scatter(x=[None], y=[None], mode="lines", line=dict(color=color, width=10), name=name,
                      legend=legend, xaxis=xa, yaxis=ya, hoverinfo="skip")


fig.add_trace(key("Temperature (°C)", "#d7202f", "legend", "x", "y"))
fig.add_trace(key("Dew Point (°)", "#58a044", "legend2", "x", "y"))
fig.add_trace(key("Wind Speed (km/h)", "#0e56b4", "legend3", "x2", "y2"))
fig.add_trace(key("Wind Gust (km/h)", "#f5903c", "legend4", "x2", "y2"))
fig.add_trace(key("Precip. Accum. Total (mm)", "#1b8ec2", "legend5", "x3", "y3"))
fig.add_trace(key("Precip. Rate (mm)", "#86c21c", "legend6", "x3", "y3"))
fig.add_trace(key("Pressure (hPa)", "#1c1c1c", "legend7", "x4", "y4"))


def xstyle(domain, anchor, **kw):
    d = dict(domain=domain, anchor=anchor, type="date", range=[START, END],
             tickmode="array", tickvals=when(tick_days), tickformat="%b %d", tickangle=0,
             showgrid=True, gridcolor=GRID, gridwidth=1, showline=True, linecolor=GRID, mirror=True,
             zeroline=False, ticks="", automargin=False, tickfont=dict(size=15, color=TEXT))
    d.update(kw)
    return d


def ystyle(domain, anchor, rng, vals):
    return dict(domain=domain, anchor=anchor, range=rng, tickmode="array", tickvals=vals,
                showgrid=True, gridcolor=GRID, gridwidth=1, showline=True, linecolor=GRID, mirror=True,
                zeroline=False, ticks="", automargin=False, ticklabelstandoff=4,
                tickfont=dict(size=15, color=TEXT))


def legend_at(x, y):
    return dict(orientation="h", x=x, xanchor="left", y=y, yanchor="middle", bgcolor="rgba(0,0,0,0)",
                font=dict(family=FONT, size=18, color=TEXT))


# alternating day bands, like the original plot bands
shapes = []
for xr, yr in [("x", "y"), ("x2", "y2"), ("x3", "y3"), ("x4", "y4")]:
    for d in range(0, 31, 2):
        shapes.append(dict(type="rect", xref=xr, yref=yr + " domain",
                           x0=START + pd.Timedelta(days=d), x1=START + pd.Timedelta(days=d + 1),
                           y0=0, y1=1, fillcolor=BAND, line=dict(width=0), layer="below"))

TOP_KEYS = 0.5339
BOTTOM_KEYS = 0.1111

fig.update_layout(
    width=2362, height=531,
    margin=dict(l=0, r=0, t=0, b=0, autoexpand=False),
    paper_bgcolor="white", plot_bgcolor="white",
    font=dict(family=FONT, size=15, color=TEXT),
    hovermode=False,
    xaxis=xstyle(LEFT, "y", side="top", ticklabelstandoff=12),
    yaxis=ystyle([0.5706, 0.9284], "x", [-3.43, 21.6], [0, 5, 10, 15, 20]),
    xaxis2=xstyle(LEFT, "y2", showticklabels=False),
    yaxis2=ystyle([0.1488, 0.5066], "x2", [-0.1, 34.4], [0, 5, 10, 15, 20, 25, 30]),
    xaxis3=xstyle(RIGHT, "y3", showticklabels=False),
    yaxis3=ystyle([0.5706, 0.9341], "x3", [-0.1, 20.05], [0, 5, 10, 15]),
    xaxis4=xstyle(RIGHT, "y4", side="bottom", ticklabelstandoff=24),
    yaxis4=ystyle([0.1507, 0.5104], "x4", [979.2, 1018.2], [980, 990, 1000, 1010]),
    legend=legend_at(0.3332, TOP_KEYS),
    legend2=legend_at(0.4162, TOP_KEYS),
    legend3=legend_at(0.3125, BOTTOM_KEYS),
    legend4=legend_at(0.4022, BOTTOM_KEYS),
    legend5=legend_at(0.7871, TOP_KEYS),
    legend6=legend_at(0.9001, TOP_KEYS),
    legend7=legend_at(0.9099, BOTTOM_KEYS),
    shapes=shapes,
    annotations=[dict(text="März 2024", x=0.2502, y=0.0621, xref="paper", yref="paper",
                      xanchor="center", yanchor="middle", showarrow=False,
                      font=dict(family="Liberation Serif, Times New Roman, serif", size=47,
                                color="#2e3192", weight="bold"))],
)

fig.write_html("out.html")
